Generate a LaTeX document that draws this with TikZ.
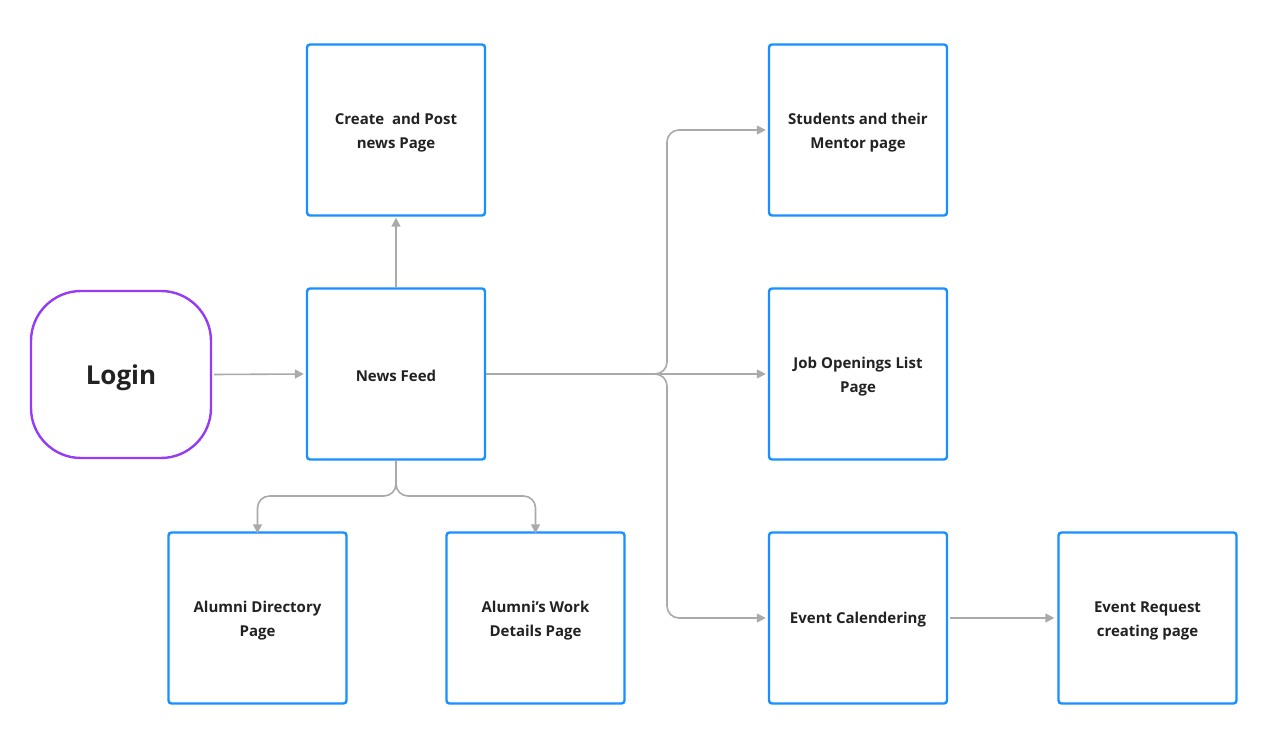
\documentclass[tikz,border=0pt]{standalone}
\usepackage{fontspec}
\setmainfont{Open Sans}
\usetikzlibrary{arrows.meta}
\definecolor{boxblue}{RGB}{24,144,255}
\definecolor{loginpurple}{RGB}{150,60,245}
\definecolor{conngray}{RGB}{170,170,170}
\definecolor{txt}{RGB}{34,34,34}
\begin{document}
\begin{tikzpicture}[x=1pt,y=-1pt,
  pagebox/.style={draw=boxblue, line width=2.4pt, rounded corners=3pt,
    minimum width=178pt, minimum height=171pt, inner sep=0pt},
  boxtext/.style={align=center, inner sep=0pt,
    font=\fontsize{15}{24}\selectfont\bfseries, text=txt},
  loginbox/.style={draw=loginpurple, line width=2.4pt, rounded corners=50pt,
    minimum width=180pt, minimum height=167pt, align=center,
    font=\fontsize{26}{30}\selectfont\bfseries, text=txt,
    execute at begin node={\rule{0pt}{27pt}}},
  conn/.style={draw=conngray, line width=1.6pt,
    -{Triangle[length=9pt,width=9pt]}}
]
\useasboundingbox (0,0) rectangle (1270,738);
\fill[white] (0,0) rectangle (1270,738);

\node[loginbox] (login) at (121,374.5) {Login};
\node[pagebox] (create) at (396,130) {};
\node[pagebox] (nf) at (396,374) {};
\node[pagebox] (stu) at (858,130) {};
\node[pagebox] (job) at (858,374) {};
\node[pagebox] (ev) at (858,618) {};
\node[pagebox] (evr) at (1147.5,618) {};
\node[pagebox] (ad) at (257.5,618) {};
\node[pagebox] (aw) at (535.5,618) {};

\node[boxtext] (create-t) at ([yshift=-3pt]create.center) {Create\ \ and Post\\news Page};
\node[boxtext] (nf-t) at ([yshift=-2pt]nf.center) {News Feed};
\node[boxtext] (stu-t) at ([yshift=-3pt]stu.center) {Students and their\\Mentor page};
\node[boxtext] (job-t) at ([yshift=-3pt]job.center) {Job Openings List\\Page};
\node[boxtext] (ev-t) at ([yshift=-2pt]ev.center) {Event Calendering};
\node[boxtext] (evr-t) at ([yshift=-3pt]evr.center) {Event Request\\creating page};
\node[boxtext] (ad-t) at ([yshift=-3pt]ad.center) {Alumni Directory\\Page};
\node[boxtext] (aw-t) at ([yshift=-3pt]aw.center) {Alumni’s Work\\Details Page};

\draw[conn] (login.east) ++(2,0) -- ([xshift=-2pt]nf.west);
\draw[conn] (nf.north) -- ([yshift=-1pt]create.south);
\draw[conn] (nf.east) -- ([xshift=-2pt]job.west);
\draw[conn] (ev.east) ++(2,0) -- ([xshift=-3pt]evr.west);

\coordinate (br) at (655,374);
\draw[conn, rounded corners=12pt] (br) -- ++(12,0) |- ([xshift=-2pt]stu.west);
\draw[conn, rounded corners=12pt] (br) -- ++(12,0) |- ([xshift=-2pt]ev.west);

\coordinate (bb) at (396,496);
\draw[conn, rounded corners=12pt] (nf.south) -- (bb) -| ([yshift=-2pt]ad.north);
\draw[conn, rounded corners=12pt] (nf.south) -- (bb) -| ([yshift=-2pt]aw.north);
\end{tikzpicture}
\end{document}
